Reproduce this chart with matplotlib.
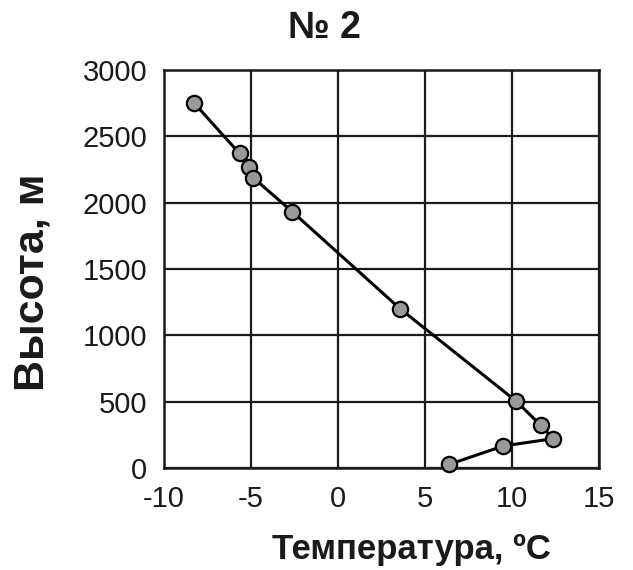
import matplotlib
matplotlib.use("Agg")
import matplotlib.pyplot as plt

temperature = [-8.25, -5.66, -5.13, -4.87, -2.63, 3.59, 10.21, 11.64, 12.37, 9.5, 6.4]
height = [2748, 2371, 2266, 2188, 1932, 1198, 507, 324, 221, 166, 28]
x_ticks = [-10, -5, 0, 5, 10, 15]
y_ticks = [0, 500, 1000, 1500, 2000, 2500, 3000]

plt.rcParams['font.family'] = ['Liberation Sans', 'DejaVu Sans']
plt.rcParams['axes.unicode_minus'] = False

fig = plt.figure(figsize=(6.33, 5.70), dpi=100)
ax = fig.add_axes([164/633, 1 - 468/570, (599-164)/633, (468-70)/570])

ax.plot(temperature, height, color='black', lw=2.2, marker='o', markersize=11,
        markerfacecolor='#999999', markeredgecolor='black', markeredgewidth=1.6,
        zorder=3, clip_on=False)

ax.set_xlim(-10, 15)
ax.set_ylim(0, 3000)
ax.set_xticks(x_ticks)
ax.set_yticks(y_ticks)
ax.grid(True, color='#1a1a1a', lw=1.6)
ax.set_axisbelow(True)
for s in ax.spines.values():
    s.set_color('#1a1a1a')
    s.set_linewidth(1.8)
ax.tick_params(length=0, labelsize=21, pad=12, colors='#1a1a1a')

ax.set_xlabel('Температура, ºC', fontsize=25, fontweight='bold', color='#1a1a1a', va='center')
ax.xaxis.set_label_coords((411-164)/435, -(550-468)/398)
ax.set_ylabel('Высота, м', fontsize=31, fontweight='bold', color='#1a1a1a', va='center')
ax.yaxis.set_label_coords(-(164-33)/435, (468-282)/398)
fig.text(324/633, 1 - 28/570, '№ 2', fontsize=27, fontweight='bold', ha='center', va='center', color='#1a1a1a')

fig.savefig('out.png', dpi=100)
